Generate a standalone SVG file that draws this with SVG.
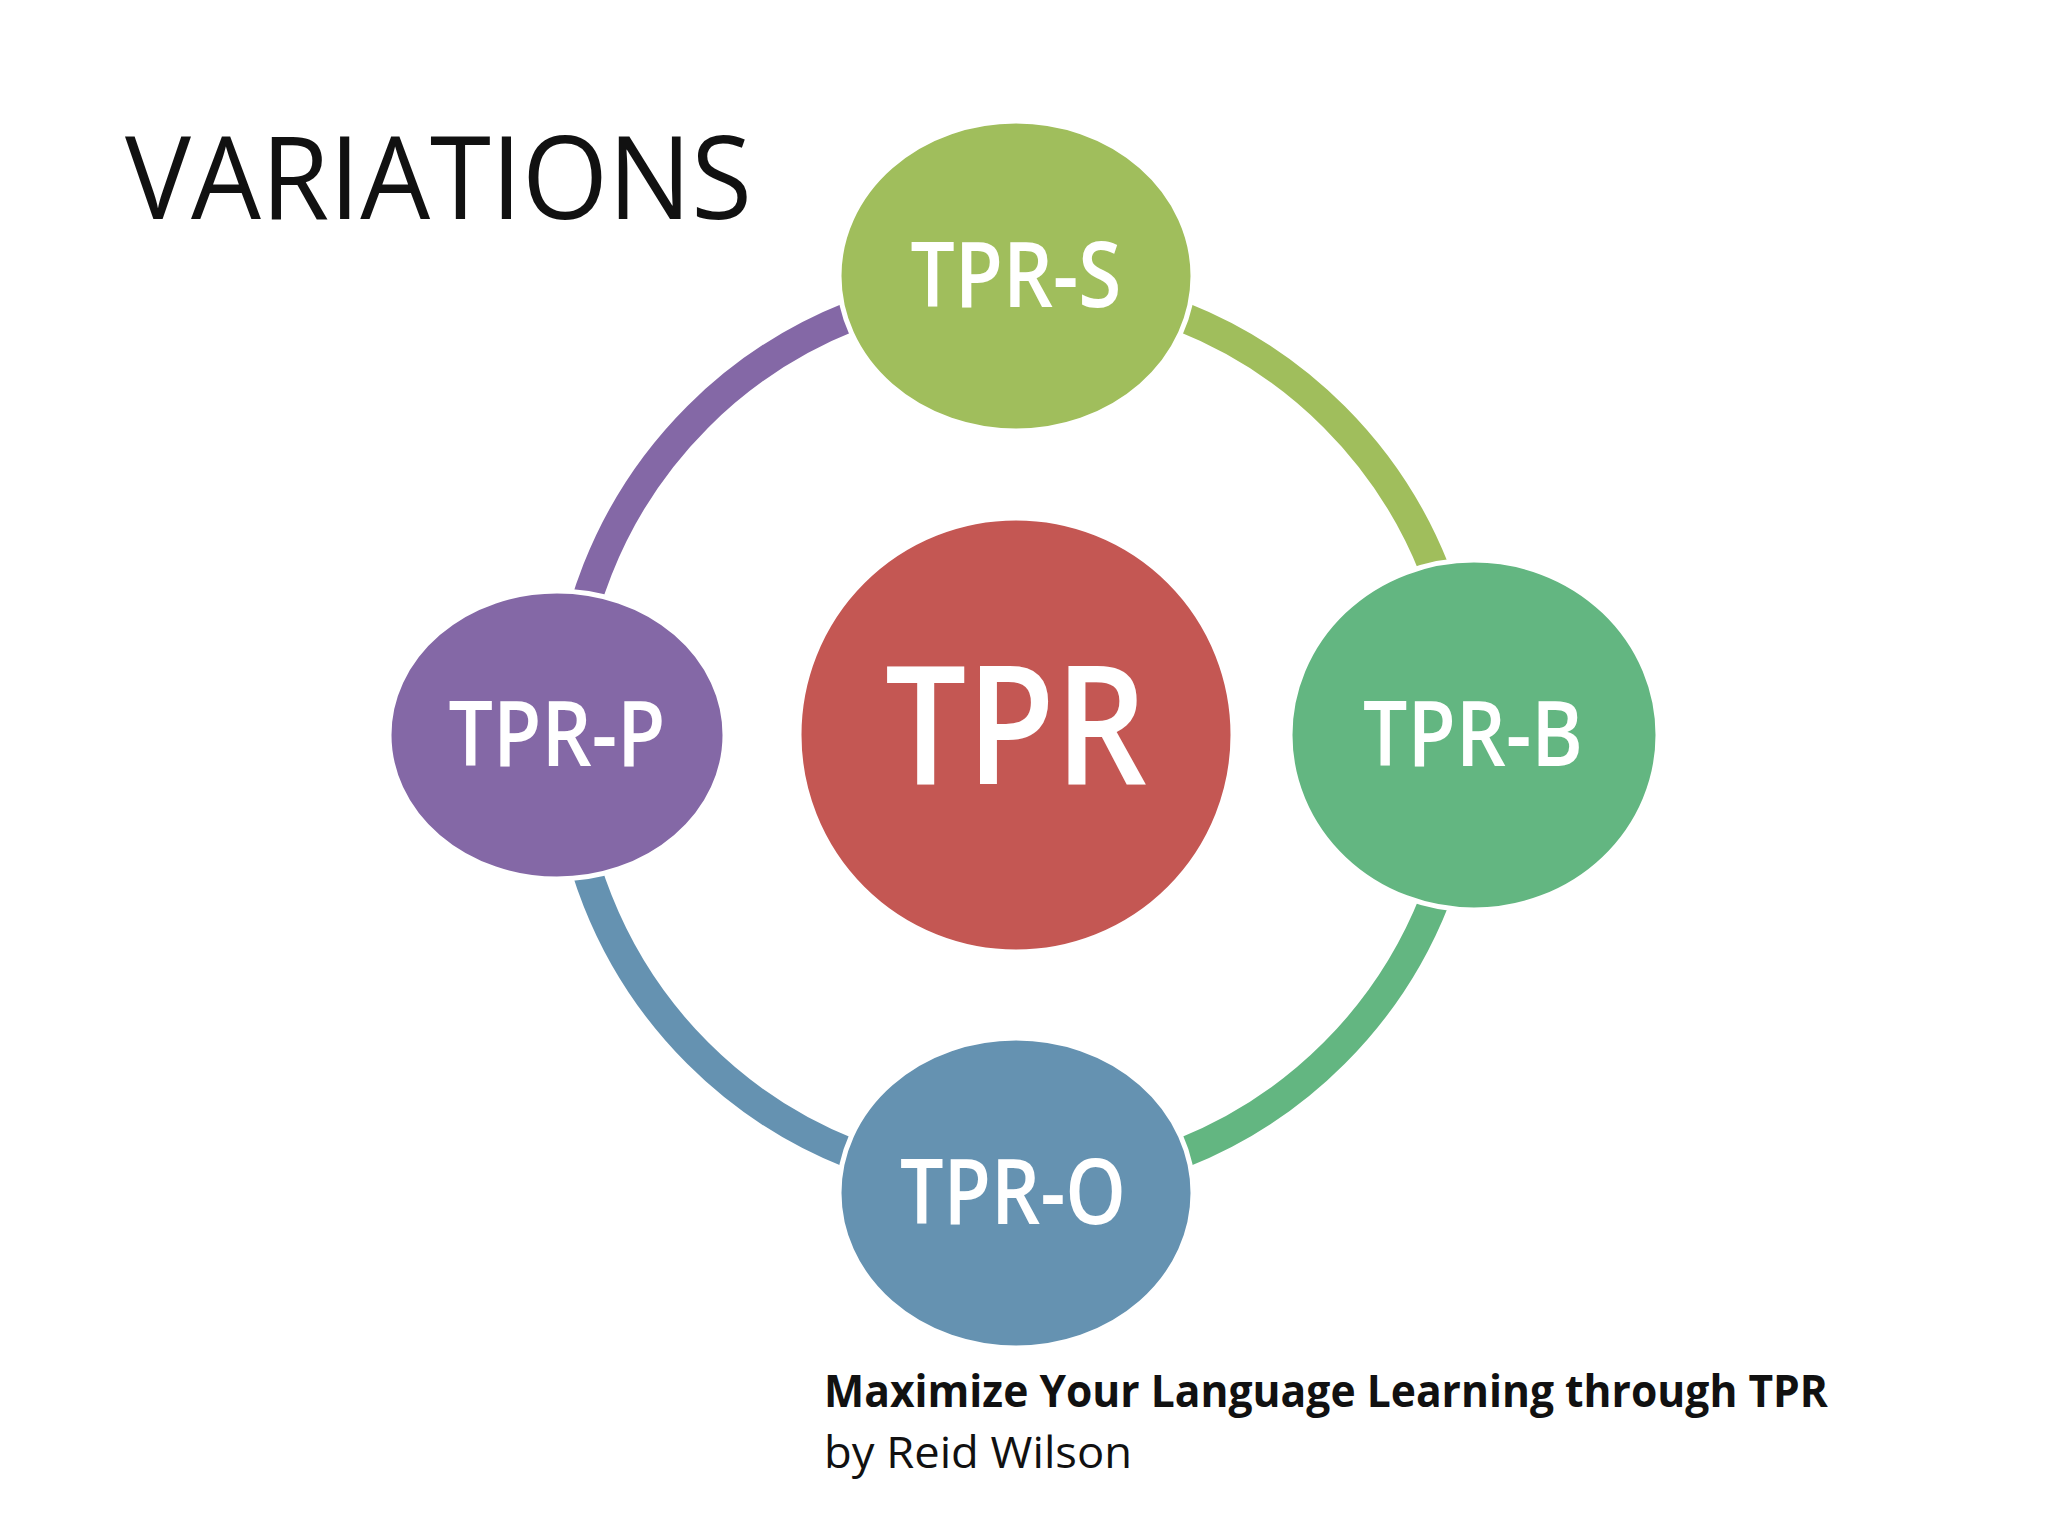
<svg xmlns="http://www.w3.org/2000/svg" width="2048" height="1536" viewBox="0 0 2048 1536">
<style>
.n{stroke:#fff;stroke-width:5}
.l{font-family:"Open Sans","Liberation Sans",sans-serif;font-weight:600;fill:#fff;text-anchor:middle}
.a{fill:none;stroke-width:30}
</style>
<rect width="2048" height="1536" fill="#fff"/>
<text x="125" y="219" font-family="Open Sans, Liberation Sans, sans-serif" font-size="116" textLength="627" lengthAdjust="spacingAndGlyphs" fill="#111">VARIATIONS</text>
<g transform="translate(-5,-4)">
<g id="connectors">
<path class="a" stroke="#8468a6" d="M1021 289 A450 450 0 0 0 571 739"/>
<path class="a" stroke="#a0be5c" d="M1021 289 A450 450 0 0 1 1471 739"/>
<path class="a" stroke="#63b681" d="M1471 739 A450 450 0 0 1 1021 1189"/>
<path class="a" stroke="#6592b1" d="M1021 1189 A450 450 0 0 1 571 739"/>
</g>
<g id="tpr"><circle class="n" cx="1021" cy="739" r="217" fill="#c45753"/><text class="l" x="1021" y="788" font-size="165" textLength="262" lengthAdjust="spacingAndGlyphs">TPR</text></g>
<g id="tpr-s"><ellipse class="n" cx="1021" cy="280" rx="177" ry="155" fill="#a0be5c"/><text class="l" x="1021" y="311" font-size="90" textLength="211" lengthAdjust="spacingAndGlyphs">TPR-S</text></g>
<g id="tpr-b"><ellipse class="n" cx="1479" cy="739" rx="184" ry="175" fill="#63b681"/><text class="l" x="1478" y="770" font-size="90" textLength="220" lengthAdjust="spacingAndGlyphs">TPR-B</text></g>
<g id="tpr-p"><ellipse class="n" cx="562" cy="739" rx="168" ry="144" fill="#8468a6"/><text class="l" x="562" y="770" font-size="90" textLength="217" lengthAdjust="spacingAndGlyphs">TPR-P</text></g>
<g id="tpr-o"><ellipse class="n" cx="1021" cy="1197" rx="177" ry="155" fill="#6592b1"/><text class="l" x="1018" y="1228" font-size="90" textLength="226" lengthAdjust="spacingAndGlyphs">TPR-O</text></g>
</g>
<text x="824" y="1407" font-family="Open Sans, Liberation Sans, sans-serif" font-weight="bold" font-size="44" textLength="1004" lengthAdjust="spacingAndGlyphs" fill="#111">Maximize Your Language Learning through TPR</text>
<text x="824" y="1468" font-family="Open Sans, Liberation Sans, sans-serif" font-size="44" textLength="308" lengthAdjust="spacingAndGlyphs" fill="#111">by Reid Wilson</text>
</svg>
